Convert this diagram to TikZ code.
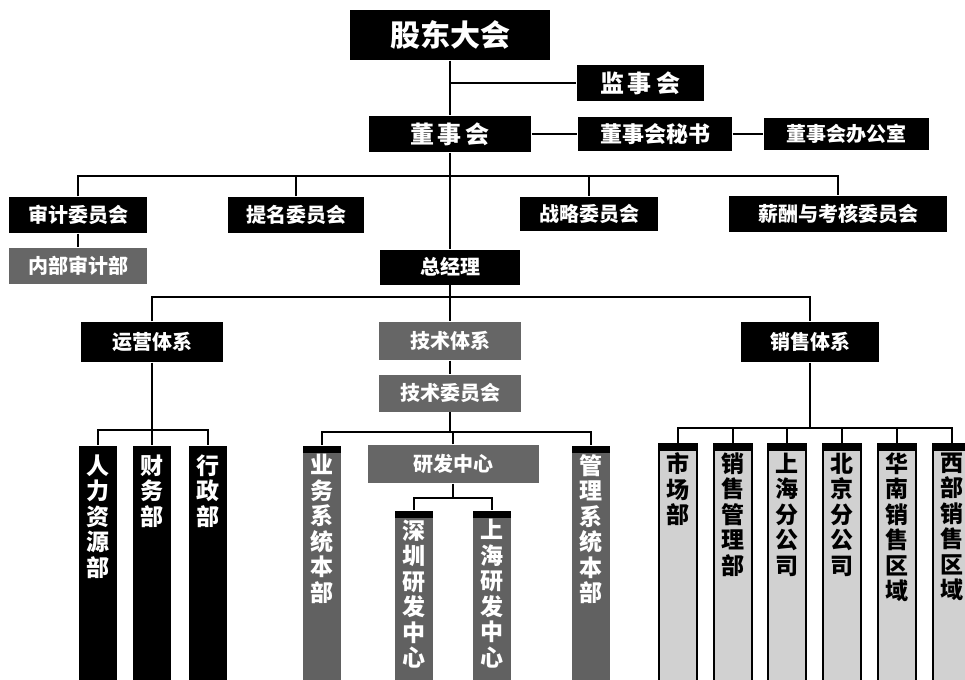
\documentclass[tikz,border=0pt]{standalone}
\usepackage{fontspec}
\newfontfamily\cjk{Noto Sans CJK SC}
\tikzstyle {box} = [fill=black, text=white, inner sep=0pt, font=\cjk\bfseries\fontsize{20}{22}\selectfont]
\tikzstyle {graybox} = [box, fill=black!60]
\tikzstyle {column} = [anchor=north, inner xsep=0pt, inner ysep=9pt, minimum width=38, font=\cjk\bfseries\fontsize{23}{25.5}\selectfont,
    path picture={\fill[black] (path picture bounding box.north west) rectangle ([yshift=-7pt]path picture bounding box.north east);}]
\tikzstyle {opcol} = [column, fill=black, text=white]
\tikzstyle {techcol} = [column, fill=black!62, text=white]
\tikzstyle {salecol} = [column, draw=black, line width=1.5pt, fill=black!18, text=black]
\newcommand{\vtext}[1]{\parbox[t][250pt][t]{30pt}{\centering #1}}

\begin{document}
\begin{tikzpicture}[x=1pt, y=-1pt, line width=1.1pt]
            \useasboundingbox (0,0) rectangle (965,679);
            \clip (0,0) rectangle (965,679);
            % board level
            \node [box, minimum width=200, minimum height=50, font=\cjk\bfseries\fontsize{30}{32}\selectfont] (gd) at (450,35) {股东大会};
            \node [box, minimum width=127, minimum height=36, font=\cjk\bfseries\fontsize{24}{26}\selectfont] (jsh) at (640,83) {监\,事\,会};
            \node [box, minimum width=162, minimum height=36, font=\cjk\bfseries\fontsize{24}{26}\selectfont] (dsh) at (450,134) {董\,事\,会};
            \node [box, minimum width=154, minimum height=34, font=\cjk\bfseries\fontsize{22}{24}\selectfont] (ms) at (655,134) {董事会秘书};
            \node [box, minimum width=165, minimum height=32] (bgs) at (846,134) {董事会办公室};
            \node [box, minimum width=138, minimum height=36] (sj) at (78,215) {审计委员会};
            \node [box, minimum width=136, minimum height=36] (tm) at (296,215) {提名委员会};
            \node [box, minimum width=138, minimum height=34] (zl) at (589,214) {战略委员会};
            \node [box, minimum width=218, minimum height=36] (xc) at (838,214) {薪酬与考核委员会};
            \node [graybox, minimum width=138, minimum height=36] (nb) at (78,266) {内部审计部};
            % management
            \node [box, minimum width=140, minimum height=35] (zjl) at (450,267) {总经理};
            \node [box, minimum width=142, minimum height=40] (yy) at (152,342) {运营体系};
            \node [graybox, minimum width=142, minimum height=38] (js) at (450,341) {技术体系};
            \node [box, minimum width=138, minimum height=40] (xs) at (810,342) {销售体系};
            \node [graybox, minimum width=142, minimum height=37] (jw) at (450,393) {技术委员会};
            \node [graybox, minimum width=171, minimum height=38] (yf) at (453,464) {研发中心};
            % departments
            \node [opcol] (rl) at (98,445) {\vtext{人\\力\\资\\源\\部}};
            \node [opcol] (cw) at (152,445) {\vtext{财\\务\\部}};
            \node [opcol] (xz) at (208,445) {\vtext{行\\政\\部}};
            \node [techcol] (yw) at (322,445) {\vtext{业\\务\\系\\统\\本\\部}};
            \node [techcol] (sz) at (414,510) {\vtext{深\\圳\\研\\发\\中\\心}};
            \node [techcol] (shy) at (492,510) {\vtext{上\\海\\研\\发\\中\\心}};
            \node [techcol] (gl) at (591,445) {\vtext{管\\理\\系\\统\\本\\部}};
            \node [salecol] (sc) at (678,443) {\vtext{市\\场\\部}};
            \node [salecol] (xg) at (733,443) {\vtext{销\\售\\管\\理\\部}};
            \node [salecol] (sh) at (787,443) {\vtext{上\\海\\分\\公\\司}};
            \node [salecol] (bj) at (842,443) {\vtext{北\\京\\分\\公\\司}};
            \node [salecol] (hn) at (897,443) {\vtext{华\\南\\销\\售\\区\\域}};
            \node [salecol] (xb) at (952,443) {\vtext{西\\部\\销\\售\\区\\域}};
            % buses
            \coordinate (dbus) at (450,176);
            \coordinate (zbus) at (450,297);
            \coordinate (ybus) at (152,430);
            \coordinate (jbus) at (450,432);
            \coordinate (rbus) at (453,498);
            \coordinate (xbus) at (810,428);
            % connectors
            \draw (gd.south) -- (dsh.north);
            \draw (gd.south |- jsh.west) -- (jsh.west);
            \draw (dsh.east) -- (ms.west);
            \draw (ms.east) -- (bgs.west);
            \draw (dsh.south) -- (zjl.north);
            \draw (sj.north) |- (dbus) -| (xc.north);
            \draw (tm.north) |- (dbus) -| (zl.north);
            \draw (sj.south) -- (nb.north);
            \draw (zjl.south) -- (js.north);
            \draw (yy.north) |- (zbus) -| (xs.north);
            \draw (js.south) -- (jw.north);
            \draw (yy.south) -- (ybus);
            \draw (rl.north) |- (ybus) -| (xz.north);
            \draw (cw.north) -- (ybus);
            \draw (jw.south) -- (jbus);
            \draw (yw.north) |- (jbus) -| (gl.north);
            \draw (yf.north) -- (yf.north |- jbus);
            \draw (yf.south) -- (rbus);
            \draw (sz.north) |- (rbus) -| (shy.north);
            \draw (xs.south) -- (xbus);
            \draw (sc.north) |- (xbus) -| (xb.north);
            \foreach \n in {xg,sh,bj,hn}
                \draw (\n.north) |- (xbus);
        \end{tikzpicture}
\end{document}
